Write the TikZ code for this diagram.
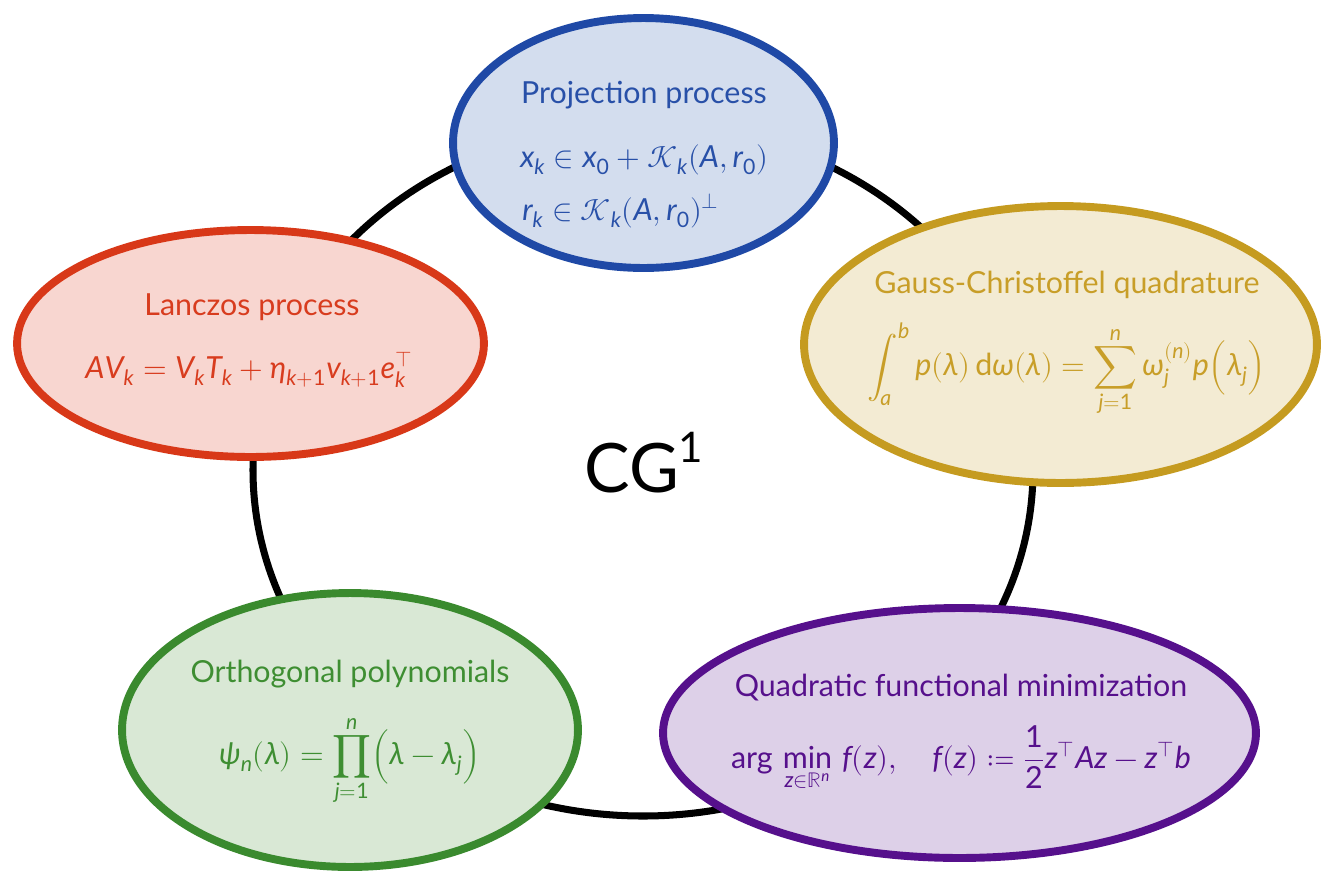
\documentclass[tikz,border=0pt]{standalone}
\usepackage{amsmath}
\usepackage{fontspec}
\usepackage[math-style=upright]{unicode-math}
\setmainfont{Lato}
\setmathfont{Latin Modern Math}
\setmathfont[range={\mathup/{latin,Latin,greek,Greek}}]{Lato Italic}
\setmathfont[range={\mathup/{num}}]{Lato}
\usetikzlibrary{shapes.geometric}

\definecolor{projline}{RGB}{31,73,166}
\definecolor{projfill}{RGB}{211,221,238}
\definecolor{projtext}{RGB}{40,80,168}
\definecolor{gaussline}{RGB}{197,155,32}
\definecolor{gaussfill}{RGB}{243,235,211}
\definecolor{gausstext}{RGB}{200,158,40}
\definecolor{lancline}{RGB}{216,56,24}
\definecolor{lancfill}{RGB}{248,214,208}
\definecolor{lanctext}{RGB}{216,60,30}
\definecolor{orthline}{RGB}{58,138,46}
\definecolor{orthfill}{RGB}{217,232,213}
\definecolor{orthtext}{RGB}{62,142,50}
\definecolor{quadline}{RGB}{86,16,140}
\definecolor{quadfill}{RGB}{221,208,232}
\definecolor{quadtext}{RGB}{86,16,140}

\newcommand\bubblefont{\fontsize{17.3}{21}\selectfont}
\newcommand\upop[1]{\mathop{\text{#1}}}

\begin{document}
\begin{tikzpicture}[x=0.02cm, y=-0.02cm,
    bubble/.style={ellipse, draw=#1line, fill=#1fill, line width=4.5pt, inner sep=0pt},
    bubbletext/.style={anchor=base, inner sep=0pt, text=#1text, font=\bubblefont}]
    \useasboundingbox (0,0) rectangle (1323,873);

    % Ciclo
    \coordinate (mid) at (643,470);
    \draw[line width=4pt] (mid) ellipse [x radius=390, y radius=346];

    % Burbujas
    \node[bubble=proj, minimum width=7.62cm, minimum height=5cm] (proj) at (643.5,143) {};
    \node[bubble=gauss, minimum width=10.26cm, minimum height=5.54cm] (gauss) at (1060.5,344.5) {};
    \node[bubble=lanc, minimum width=9.34cm, minimum height=4.54cm] (lanc) at (250.5,343.5) {};
    \node[bubble=orth, minimum width=9.12cm, minimum height=5.48cm] (orth) at (350,730) {};
    \node[bubble=quad, minimum width=11.86cm, minimum height=5cm] (quad) at (959.5,733) {};

    % Textos
    \node[bubbletext=proj] (proj-title) at (644,103) {Projection process};
    \node[bubbletext=proj, anchor=base west] (proj-eq1) at (520,167) {$x_k \in x_0 + \mathcal{K}_k(A, r_0)$};
    \node[bubbletext=proj, anchor=base west] (proj-eq2) at (522,220) {$r_k \in \mathcal{K}_k(A, r_0)^{\perp}$};

    \node[bubbletext=gauss] (gauss-title) at (1067,293) {Gauss-Christoffel quadrature};
    \node[bubbletext=gauss] (gauss-eq) at (1067,375) {$\displaystyle\int_a^b p(\lambda)\,\text{d}\omega(\lambda) = \sum_{j=1}^{n} \omega_j^{(n)} p\Bigl(\lambda_j\Bigr)$};

    \node[bubbletext=lanc] (lanc-title) at (252,315) {Lanczos process};
    \node[bubbletext=lanc] (lanc-eq) at (249,378) {$AV_k = V_k T_k + \eta_{k+1} v_{k+1} e_k^{\top}$};

    \node[bubbletext=orth] (orth-title) at (350,682) {Orthogonal polynomials};
    \node[bubbletext=orth] (orth-eq) at (350,764) {$\displaystyle\psi_n(\lambda) = \prod_{j=1}^{n} \Bigl(\lambda - \lambda_j\Bigr)$};

    \node[bubbletext=quad] (quad-title) at (961,696) {Quadratic functional minimization};
    \node[bubbletext=quad] (quad-eq) at (961,768) {$\displaystyle\upop{arg}\,\upop{min}\limits_{z\in\mathbb{R}^n}\, f(z), \quad f(z) \coloneq \frac{1}{2} z^{\top} A z - z^{\top} b$};

    % Centro
    \node[anchor=base, inner sep=0pt, font=\fontsize{38.8}{46}\selectfont] (cg) at (644,492) {CG\raisebox{17pt}{\fontsize{24}{24}\selectfont 1}};
\end{tikzpicture}
\end{document}
